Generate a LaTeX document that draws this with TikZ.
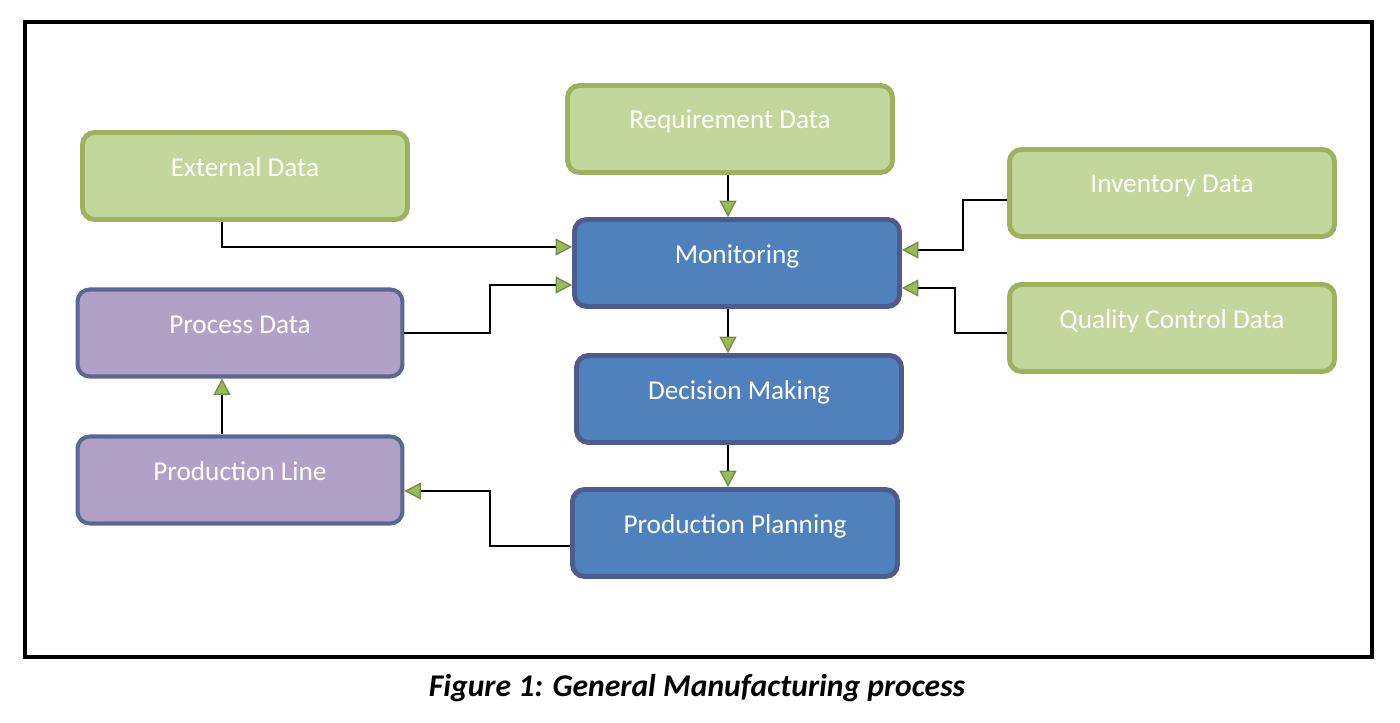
\documentclass[tikz,border=0pt]{standalone}
\usepackage{fontspec}
\setmainfont{Carlito}
\usepackage{tikz}
\usetikzlibrary{shapes,% rounded boxes
arrows.meta}%            triangle arrow tips
\definecolor{greenfill}{HTML}{C3D69B}
\definecolor{greenline}{HTML}{9EB25C}
\definecolor{bluefill}{HTML}{4F81BD}
\definecolor{blueline}{HTML}{4F5B8C}
\definecolor{purplefill}{HTML}{B2A1C7}
\definecolor{purpleline}{HTML}{5A6794}
\definecolor{tipgreen}{HTML}{9BBB59}
\tikzset{every node/.style={font=\fontsize{15.5pt}{18pt}\selectfont},
  box/.style={rectangle,rounded corners=0.24cm,minimum width=6.5cm,
    minimum height=1.74cm,text=white,text height=0.4cm,text depth=0.4cm},
  databox/.style={box,fill=greenfill,draw=greenline,line width=2.8pt},
  stepbox/.style={box,fill=bluefill,draw=blueline,line width=2.8pt},
  plantbox/.style={box,fill=purplefill,draw=purpleline,line width=2.3pt},
  conn/.style={line width=0.8pt,
    -{Triangle[length=0.33cm,width=0.34cm,fill=tipgreen,color=tipgreen!75!black]}},
  caption/.style={font=\fontsize{18pt}{21pt}\selectfont\bfseries\itshape}}

\begin{document}
\begin{tikzpicture}[x=0.02cm,y=-0.02cm]
\useasboundingbox (0,0) rectangle (1400,723);
\draw[line width=2.3pt] (25,22) rectangle (1372,657);
% inputs
\node[databox] (req) at (730,129) {Requirement Data};
\node[databox] (ext) at (245,176) {External Data};
\node[databox] (inv) at (1172,193) {Inventory Data};
\node[databox] (qc) at (1172,328) {Quality Control Data};
% main chain
\node[stepbox] (mon) at (737,263) {Monitoring};
\node[stepbox] (dec) at (739,399) {Decision Making};
\node[stepbox] (plan) at (735,533) {Production Planning};
% plant side
\node[plantbox] (proc) at (240,333) {Process Data};
\node[plantbox] (line) at (240,480) {Production Line};
% connectors
\draw[conn] (req.south -| 728,0) -- (mon.north -| 728,0);
\draw[conn] (ext.south -| 222,0) |- (mon.west |- 0,247);
\draw[conn] (proc.east) -| (490,285) -- (mon.west |- 0,285);
\draw[conn] (inv.west |- 0,200) -| (963,250) -- (mon.east |- 0,250);
\draw[conn] (qc.west |- 0,333) -| (955,288) -- (mon.east |- 0,288);
\draw[conn] (mon.south -| 728,0) -- (dec.north -| 728,0);
\draw[conn] (dec.south -| 728,0) -- (plan.north -| 728,0);
\draw[conn] (plan.west |- 0,546) -| (490,491) -- (line.east |- 0,491);
\draw[conn] (line.north -| 222,0) -- (proc.south -| 222,0);
\node[caption] (cap) at (697,688) {Figure 1: General Manufacturing process};
\end{tikzpicture}
\end{document}
